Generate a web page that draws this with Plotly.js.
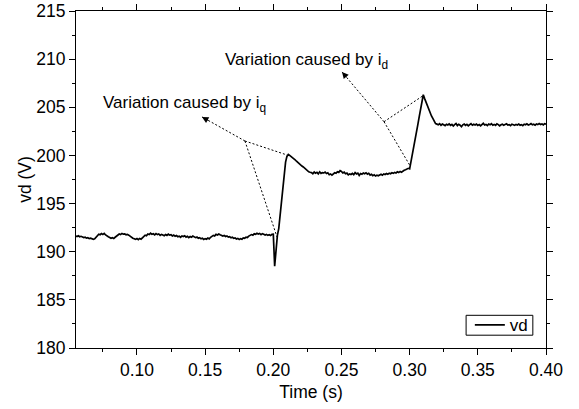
<!DOCTYPE html>
<html>
<head>
<meta charset="utf-8">
<script src="https://cdn.plot.ly/plotly-3.0.1.min.js"></script>
<style>html,body{margin:0;padding:0;background:#fff;}#chart{width:579px;height:409px;}</style>
</head>
<body>
<div id="chart"></div>
<script>
// sampling of the recorded signal
var t0 = 0.055;   // s, first sample
var dt = 0.001;   // s, sample spacing

// vd (V), segment by segment
var vdBefore = [
191.62,191.58,191.66,191.55,191.60,191.52,191.47,191.50,191.41,191.45,
191.36,191.40,191.31,191.28,191.35,191.52,191.70,191.82,191.76,191.88,
191.80,191.90,191.74,191.62,191.55,191.48,191.40,191.45,191.38,191.50,
191.62,191.70,191.84,191.78,191.90,191.82,191.86,191.76,191.80,191.72,
191.60,191.52,191.40,191.34,191.28,191.36,191.25,191.38,191.30,191.44,
191.55,191.72,191.66,191.84,191.78,191.92,191.80,191.86,191.74,191.88,
191.78,191.84,191.70,191.80,191.74,191.66,191.78,191.70,191.82,191.72,
191.76,191.64,191.72,191.60,191.68,191.56,191.62,191.50,191.64,191.58,
191.66,191.52,191.60,191.46,191.58,191.50,191.62,191.54,191.46,191.52,
191.40,191.46,191.34,191.40,191.28,191.36,191.30,191.42,191.34,191.50,
191.58,191.70,191.64,191.80,191.74,191.84,191.76,191.70,191.62,191.68,
191.58,191.64,191.52,191.56,191.44,191.50,191.38,191.42,191.32,191.38,
191.28,191.36,191.30,191.44,191.40,191.52,191.48,191.62,191.70,191.78,
191.72,191.86,191.80,191.92,191.84,191.90,191.78,191.88,191.82,191.74,
191.80,191.70,191.76,191.68,191.80
];
var vdStepQ = [
191.82,188.50,190.30,191.70,192.40,193.80,195.10,196.50,197.90,199.30,
199.90,200.10,200.00,199.90,199.80,199.70,199.55,199.40,199.25,199.10,
199.00,198.90,198.80,198.65,198.50,198.40,198.30,198.25
];
var vdMiddle = [
198.22,198.10,198.28,198.16,198.24,198.08,198.30,198.14,198.22,198.18,
198.26,198.12,198.20,198.00,198.08,197.96,198.12,198.20,198.14,198.30,
198.24,198.42,198.34,198.18,198.26,198.10,198.16,197.98,198.08,198.02,
198.14,198.00,198.22,198.08,198.16,197.92,198.12,198.04,198.18,198.10,
198.20,198.06,198.14,197.96,198.04,197.90,197.98,197.86,197.94,197.88,
197.96,198.04,197.94,198.08,198.02,198.12,198.04,198.16,198.10,198.20,
198.14,198.24,198.18,198.30,198.22,198.34,198.26,198.40,198.46,198.52,
198.58,198.66
];
var vdStepD = [
198.60,199.30,200.10,200.90,201.70,202.40,203.20,204.00,204.80,205.60,
206.30,205.90,205.50,205.10,204.80,204.40,204.10,203.85,203.50,203.30,
203.25
];
var vdAfter = [
203.18,203.30,203.14,203.26,203.20,203.10,203.24,203.16,203.28,203.12,
203.22,203.06,203.20,203.32,203.10,203.24,203.14,202.98,203.18,203.26,
203.12,203.22,203.08,203.20,203.30,203.14,203.24,203.16,203.26,203.12,
203.20,203.08,203.24,203.34,203.16,203.22,203.10,203.26,203.18,203.30,
203.14,203.22,203.12,203.28,203.20,203.06,203.18,203.24,203.14,203.22,
203.28,203.16,203.20,203.10,203.24,203.18,203.12,203.22,203.16,203.26,
203.14,203.20,203.10,203.24,203.18,203.28,203.16,203.22,203.30,203.18,
203.24,203.14,203.26,203.20,203.32,203.22,203.28,203.18,203.30,203.24
];

// axis settings
var xRange = [0.0553, 0.40];
var yRange = [180, 215];

// annotation labels and their pointer geometry (data coordinates)
var labelQ = 'Variation caused by i<sub>q</sub>';
var labelD = 'Variation caused by i<sub>d</sub>';
var labelQPos = [0.0739, 205.3];
var labelDPos = [0.1631, 209.8];
var hubQ = [0.1792, 201.5];
var tipQ = [0.1477, 204.0];
var endsQ = [[0.2100, 200.05], [0.2028, 191.5]];
var hubD = [0.2812, 203.5];
var tipD = [0.2504, 208.67];
var endsD = [[0.3098, 206.2], [0.3000, 199.0]];

// legend frame (paper fractions)
var legendBox = {x0: 0.830, x1: 0.972, y0: 0.038, y1: 0.097};

var vd = vdBefore.concat(vdStepQ, vdMiddle, vdStepD, vdAfter);

var FONT = 'Arial, "Liberation Sans", sans-serif';

function seg(a, b) {
  return {type: 'line', xref: 'x', yref: 'y', x0: a[0], y0: a[1], x1: b[0], y1: b[1],
          line: {color: '#000', width: 1, dash: '2px,2px'}};
}
var shapes = [seg(hubQ, tipQ), seg(hubQ, endsQ[0]), seg(hubQ, endsQ[1]),
              seg(hubD, tipD), seg(hubD, endsD[0]), seg(hubD, endsD[1]),
              {type: 'rect', xref: 'paper', yref: 'paper',
               x0: legendBox.x0, x1: legendBox.x1, y0: legendBox.y0, y1: legendBox.y1,
               line: {color: '#000', width: 1}, fillcolor: 'rgba(0,0,0,0)', layer: 'above'}];

function head(tip, ax, ay) {
  return {x: tip[0], y: tip[1], xref: 'x', yref: 'y', text: '', showarrow: true,
          ax: ax, ay: ay, arrowhead: 2, arrowsize: 1.3, arrowwidth: 1, arrowcolor: '#000', standoff: 0};
}

var annotations = [
  {x: labelQPos[0], y: labelQPos[1], xref: 'x', yref: 'y', text: labelQ, showarrow: false,
   xanchor: 'left', yanchor: 'middle', font: {family: FONT, size: 17, color: '#000'}},
  {x: labelDPos[0], y: labelDPos[1], xref: 'x', yref: 'y', text: labelD, showarrow: false,
   xanchor: 'left', yanchor: 'middle', font: {family: FONT, size: 17, color: '#000'}},
  head(tipQ, 8, 4.5),
  head(tipD, 5.5, 6.5)
];

var trace = {
  type: 'scatter', mode: 'lines', name: 'vd',
  x0: t0, dx: dt, y: vd,
  line: {color: '#000', width: 1.7}
};

var axisCommon = {
  showline: true, linecolor: '#000', linewidth: 1, mirror: 'ticks',
  ticks: 'outside', ticklen: 6, tickwidth: 1, tickcolor: '#000',
  showgrid: false, zeroline: false,
  tickfont: {family: FONT, size: 17.5, color: '#000'}
};

var layout = {
  width: 579, height: 409,
  margin: {l: 76, r: 33, t: 11, b: 61},
  paper_bgcolor: '#fff', plot_bgcolor: '#fff',
  font: {family: FONT, color: '#000'},
  showlegend: true,
  legend: {x: 0.972, y: 0.0674, xanchor: 'right', yanchor: 'middle',
           borderwidth: 0, bgcolor: 'rgba(0,0,0,0)',
           font: {family: FONT, size: 17, color: '#000'}},
  xaxis: Object.assign({}, axisCommon, {
    range: xRange, tick0: 0, dtick: 0.05, tickformat: '.2f',
    minor: {dtick: 0.025, tick0: 0, ticks: 'outside', ticklen: 3, tickcolor: '#000', showgrid: false},
    title: {text: 'Time (s)', font: {family: FONT, size: 17.5, color: '#000'}, standoff: 6}
  }),
  yaxis: Object.assign({}, axisCommon, {
    range: yRange, tick0: 180, dtick: 5,
    minor: {dtick: 2.5, tick0: 180, ticks: 'outside', ticklen: 3, tickcolor: '#000', showgrid: false},
    title: {text: 'vd (V)', font: {family: FONT, size: 17.5, color: '#000'}, standoff: 0}
  }),
  shapes: shapes,
  annotations: annotations
};

Plotly.newPlot('chart', [trace], layout, {displayModeBar: false, staticPlot: true});
</script>
</body>
</html>
